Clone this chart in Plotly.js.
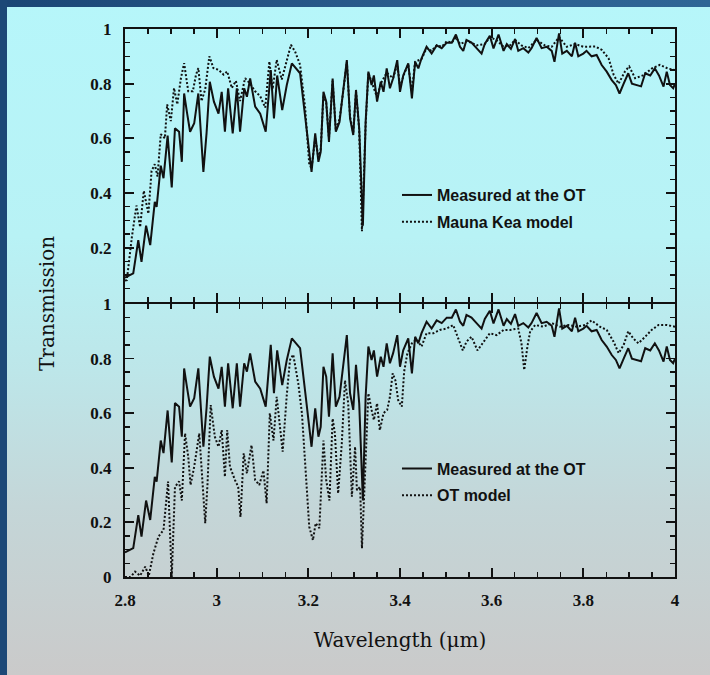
<!DOCTYPE html>
<html>
<head>
<meta charset="utf-8">
<script src="https://cdn.plot.ly/plotly-3.0.1.min.js"></script>
<style>
  html, body { margin: 0; padding: 0; }
  #wrap {
    position: relative; width: 710px; height: 675px; overflow: hidden;
    background: linear-gradient(to bottom, #b6f6fa 0%, #b8f2f5 35%, #bde6e9 55%, #c4d6d8 75%, #cacaca 100%);
  }
  #topbar { position: absolute; left: 0; top: 0; width: 710px; height: 7px;
    background: linear-gradient(to right, #1b4675 0%, #2b5d8e 60%, #2f6696 100%); }
  #leftbar { position: absolute; left: 0; top: 0; width: 7px; height: 675px; background: #1c4877; }
  #chart { position: absolute; left: 0; top: 0; width: 710px; height: 675px; }
</style>
</head>
<body>
<div id="wrap">
  <div id="topbar"></div>
  <div id="leftbar"></div>
  <div id="chart"></div>
</div>
<script>
// Measured at the OT (same curve in both panels)
const measuredWl = [2.800,2.818,2.829,2.836,2.846,2.855,2.865,2.869,2.878,2.884,2.893,2.902,2.909,2.918,2.924,2.929,2.935,2.942,2.951,2.960,2.971,2.978,2.985,2.994,3.004,3.011,3.018,3.025,3.035,3.044,3.051,3.060,3.066,3.073,3.084,3.095,3.107,3.118,3.125,3.132,3.143,3.153,3.164,3.182,3.193,3.207,3.215,3.222,3.227,3.233,3.239,3.245,3.253,3.260,3.268,3.276,3.284,3.291,3.298,3.304,3.311,3.319,3.325,3.331,3.338,3.343,3.350,3.358,3.364,3.371,3.378,3.385,3.394,3.400,3.407,3.418,3.426,3.433,3.440,3.447,3.458,3.469,3.480,3.491,3.502,3.513,3.522,3.531,3.538,3.545,3.556,3.567,3.578,3.585,3.596,3.604,3.615,3.626,3.633,3.642,3.651,3.658,3.669,3.680,3.687,3.698,3.709,3.720,3.731,3.737,3.747,3.754,3.764,3.775,3.782,3.789,3.800,3.807,3.818,3.829,3.840,3.851,3.862,3.871,3.879,3.888,3.898,3.906,3.917,3.926,3.935,3.946,3.956,3.965,3.975,3.982,3.989,3.996,4.000];
const measuredT = [0.09,0.106,0.227,0.148,0.28,0.209,0.367,0.349,0.50,0.454,0.61,0.42,0.637,0.624,0.514,0.764,0.697,0.624,0.655,0.764,0.477,0.62,0.807,0.734,0.69,0.77,0.624,0.783,0.618,0.783,0.624,0.783,0.752,0.819,0.716,0.69,0.624,0.85,0.673,0.83,0.703,0.795,0.874,0.838,0.68,0.477,0.618,0.514,0.55,0.77,0.734,0.587,0.819,0.624,0.66,0.764,0.886,0.673,0.612,0.777,0.636,0.28,0.66,0.844,0.795,0.83,0.734,0.807,0.77,0.856,0.783,0.82,0.886,0.77,0.83,0.874,0.746,0.88,0.856,0.893,0.935,0.91,0.94,0.93,0.95,0.95,0.98,0.935,0.92,0.96,0.95,0.93,0.91,0.945,0.975,0.929,0.98,0.92,0.945,0.927,0.963,0.92,0.93,0.914,0.93,0.967,0.93,0.935,0.92,0.88,0.984,0.91,0.92,0.90,0.95,0.90,0.91,0.92,0.90,0.905,0.868,0.844,0.813,0.795,0.764,0.80,0.838,0.80,0.795,0.79,0.838,0.83,0.856,0.83,0.789,0.844,0.795,0.783,0.80];

// Mauna Kea model (top panel)
const maunaKeaWl = [2.800,2.804,2.815,2.825,2.833,2.841,2.851,2.858,2.865,2.871,2.878,2.887,2.892,2.900,2.907,2.914,2.922,2.929,2.938,2.948,2.955,2.960,2.967,2.975,2.984,2.993,3.004,3.015,3.023,3.033,3.042,3.051,3.062,3.073,3.084,3.095,3.106,3.115,3.122,3.131,3.142,3.151,3.162,3.171,3.182,3.193,3.202,3.207,3.215,3.222,3.227,3.233,3.239,3.245,3.253,3.260,3.268,3.276,3.284,3.291,3.298,3.304,3.311,3.317,3.325,3.331,3.340,3.350,3.358,3.371,3.385,3.394,3.400,3.410,3.418,3.426,3.433,3.447,3.458,3.469,3.480,3.491,3.502,3.513,3.522,3.531,3.545,3.556,3.567,3.585,3.596,3.610,3.626,3.640,3.651,3.665,3.680,3.698,3.716,3.731,3.747,3.764,3.782,3.800,3.826,3.840,3.855,3.866,3.877,3.891,3.900,3.913,3.930,3.949,3.967,3.985,4.000];
const maunaKeaT = [0.08,0.081,0.239,0.354,0.275,0.408,0.324,0.481,0.505,0.46,0.615,0.6,0.724,0.663,0.784,0.724,0.82,0.875,0.772,0.772,0.833,0.857,0.736,0.78,0.9,0.857,0.851,0.833,0.845,0.784,0.81,0.736,0.82,0.8,0.772,0.754,0.712,0.881,0.78,0.887,0.815,0.875,0.942,0.918,0.869,0.712,0.505,0.49,0.6,0.53,0.56,0.76,0.73,0.6,0.81,0.63,0.67,0.77,0.88,0.68,0.62,0.77,0.63,0.26,0.65,0.84,0.8,0.75,0.8,0.84,0.82,0.87,0.79,0.84,0.87,0.77,0.88,0.89,0.93,0.92,0.94,0.935,0.955,0.95,0.97,0.945,0.955,0.95,0.94,0.945,0.97,0.96,0.935,0.94,0.96,0.94,0.93,0.96,0.94,0.935,0.97,0.935,0.945,0.935,0.936,0.924,0.893,0.833,0.8,0.845,0.863,0.82,0.83,0.855,0.869,0.855,0.85];

// OT model (bottom panel)
const otModelWl = [2.800,2.812,2.822,2.833,2.844,2.852,2.862,2.873,2.884,2.894,2.902,2.909,2.918,2.924,2.931,2.938,2.943,2.951,2.962,2.971,2.975,2.980,2.987,2.996,3.004,3.011,3.018,3.023,3.029,3.040,3.047,3.052,3.059,3.066,3.076,3.084,3.093,3.102,3.109,3.116,3.124,3.131,3.144,3.153,3.160,3.167,3.178,3.186,3.193,3.202,3.210,3.216,3.224,3.233,3.239,3.246,3.253,3.258,3.265,3.273,3.280,3.287,3.295,3.302,3.306,3.313,3.317,3.324,3.331,3.338,3.343,3.350,3.356,3.364,3.372,3.378,3.384,3.390,3.396,3.404,3.409,3.416,3.426,3.436,3.447,3.458,3.473,3.487,3.502,3.516,3.527,3.537,3.545,3.556,3.569,3.580,3.596,3.611,3.626,3.640,3.658,3.665,3.671,3.678,3.684,3.695,3.713,3.731,3.749,3.767,3.785,3.804,3.818,3.836,3.851,3.866,3.877,3.888,3.898,3.909,3.920,3.935,3.949,3.964,3.982,4.000];
const otModelT = [0.0,0.0,0.02,0.005,0.038,0.005,0.087,0.148,0.172,0.35,0.0,0.33,0.35,0.28,0.526,0.44,0.337,0.404,0.526,0.28,0.197,0.34,0.63,0.514,0.477,0.538,0.367,0.538,0.404,0.355,0.33,0.22,0.453,0.38,0.483,0.355,0.337,0.39,0.27,0.6,0.5,0.66,0.459,0.667,0.795,0.815,0.71,0.6,0.404,0.184,0.135,0.197,0.179,0.5,0.355,0.28,0.58,0.526,0.306,0.489,0.72,0.636,0.294,0.477,0.318,0.33,0.105,0.404,0.673,0.612,0.575,0.636,0.538,0.6,0.612,0.66,0.746,0.72,0.648,0.624,0.752,0.819,0.856,0.87,0.844,0.893,0.893,0.905,0.91,0.923,0.874,0.83,0.862,0.88,0.83,0.856,0.893,0.886,0.905,0.905,0.91,0.856,0.758,0.844,0.9,0.923,0.917,0.93,0.917,0.923,0.917,0.923,0.94,0.917,0.905,0.862,0.82,0.85,0.9,0.874,0.856,0.88,0.905,0.923,0.923,0.917];

const xTickStep = 0.2;
const yTickStep = 0.2;

const solidLine = {color: '#111', width: 2};
const dotLine = {color: '#111', width: 2, dash: '2px,2px'};

const traces = [
  {x: measuredWl, y: measuredT, xaxis: 'x2', yaxis: 'y2', mode: 'lines', name: 'Measured at the OT',
   line: solidLine, legend: 'legend', legendgroup: 'a'},
  {x: maunaKeaWl, y: maunaKeaT, xaxis: 'x2', yaxis: 'y2', mode: 'lines', name: 'Mauna Kea model',
   line: dotLine, legend: 'legend', legendgroup: 'b'},
  {x: measuredWl, y: measuredT, xaxis: 'x', yaxis: 'y', mode: 'lines', name: 'Measured at the OT',
   line: solidLine, legend: 'legend2', legendgroup: 'c'},
  {x: otModelWl, y: otModelT, xaxis: 'x', yaxis: 'y', mode: 'lines', name: 'OT model',
   line: dotLine, legend: 'legend2', legendgroup: 'd'}
];

const tickFont = {family: 'Liberation Serif', size: 17, color: '#111', weight: 700};
const legendFont = {family: 'Liberation Sans', size: 16, color: '#111', weight: 700};
const minorX = {dtick: 0.05, tick0: 2.8, ticks: 'inside', ticklen: 5, tickwidth: 1.5, tickcolor: '#111'};
const minorY = {dtick: 0.05, tick0: 0, ticks: 'inside', ticklen: 5, tickwidth: 1.5, tickcolor: '#111'};
const split = 0.4982;
const gap = 2 / 548;

const xCommon = {
  range: [2.8, 4], tick0: 2.8, dtick: xTickStep, ticks: 'inside', ticklen: 9, tickwidth: 1.8,
  tickcolor: '#111', showline: true, linecolor: '#111', linewidth: 2, mirror: 'ticks',
  showgrid: false, zeroline: false, minor: minorX, tickfont: tickFont, ticklabelstandoff: 7
};
const yCommon = {
  tick0: 0, dtick: yTickStep, ticks: 'inside', ticklen: 9, tickwidth: 1.8,
  tickcolor: '#111', showline: true, linecolor: '#111', linewidth: 2, mirror: 'ticks',
  showgrid: false, zeroline: false, minor: minorY, tickfont: tickFont, ticklabelstandoff: 8
};

const layout = {
  width: 710, height: 675,
  margin: {l: 125, r: 35, t: 29, b: 98},
  paper_bgcolor: 'rgba(0,0,0,0)', plot_bgcolor: 'rgba(0,0,0,0)',
  showlegend: true,
  xaxis: Object.assign({}, xCommon, {anchor: 'y', domain: [0, 1],
    title: {text: 'Wavelength (\u03bcm)', font: {family: 'DejaVu Serif', size: 20, color: '#111'}, standoff: 24}}),
  xaxis2: Object.assign({}, xCommon, {anchor: 'y2', matches: 'x', showticklabels: false}),
  yaxis: Object.assign({}, yCommon, {anchor: 'x', domain: [0, split], range: [0, 1]}),
  yaxis2: Object.assign({}, yCommon, {anchor: 'x2', domain: [split + gap, 1], range: [0.001, 1]}),
  legend: {x: 0.4945, y: 0.728, xanchor: 'left', yanchor: 'top', bgcolor: 'rgba(0,0,0,0)',
    font: legendFont, tracegroupgap: 3, traceorder: 'grouped'},
  legend2: {x: 0.4945, y: 0.229, xanchor: 'left', yanchor: 'top', bgcolor: 'rgba(0,0,0,0)',
    font: legendFont, tracegroupgap: 3, traceorder: 'grouped'},
  annotations: [
    {text: 'Transmission', xref: 'paper', yref: 'paper', x: -0.1418, y: split, textangle: -90,
     showarrow: false, xanchor: 'center', yanchor: 'middle',
     font: {family: 'DejaVu Serif', size: 20, color: '#111'}}
  ]
};

Plotly.newPlot('chart', traces, layout, {staticPlot: true, displayModeBar: false});
</script>
</body>
</html>
